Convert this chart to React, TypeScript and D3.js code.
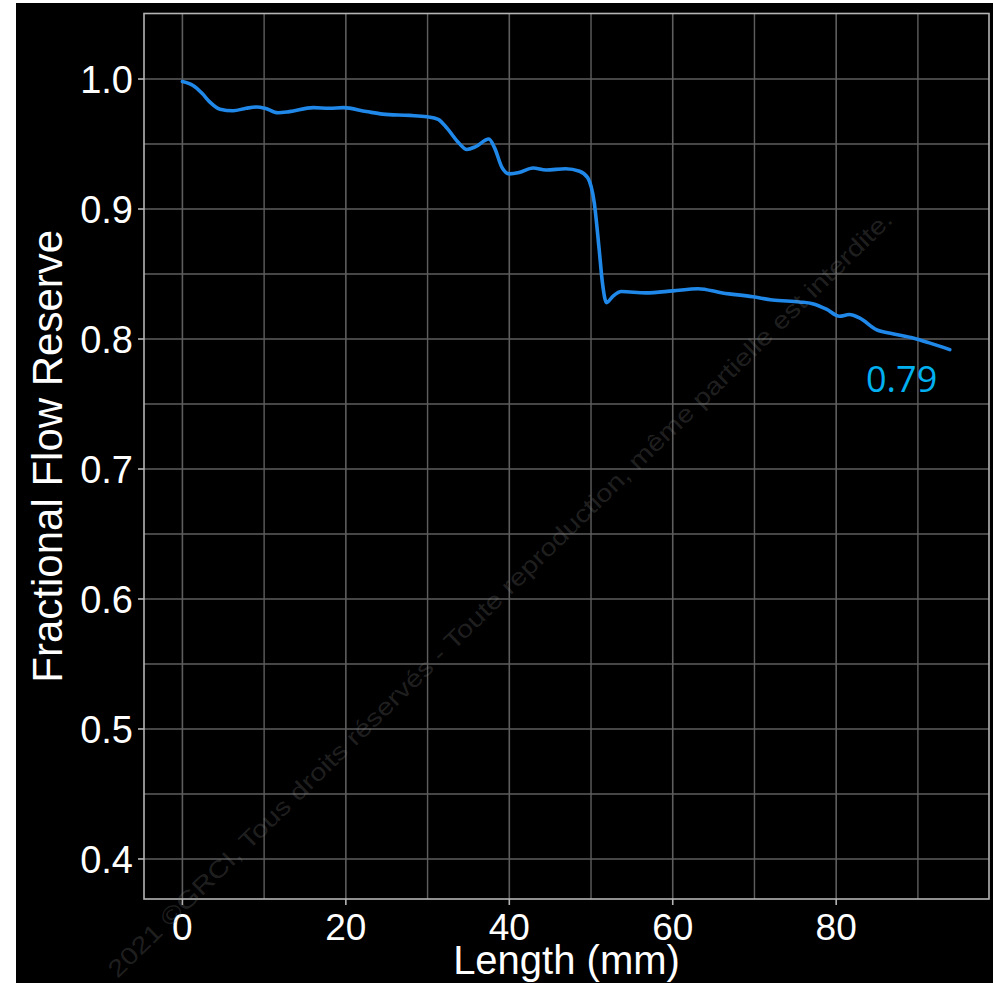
import React from "react";
import * as d3 from "d3";

// Data
const lengthMm: number[] = [
  0, 1.3, 2.4, 3.4, 4.6, 6.2, 7.8, 9.1, 10.1, 11.7, 13.1, 16.0, 18.0, 19.7,
  22.5, 24.5, 27.8, 29.9, 31.3, 32.4, 33.8, 34.8, 35.9, 37.5, 38.2, 39.1, 40.0,
  41.2, 42.9, 44.5, 46.9, 48.6, 49.6, 50.4, 51.0, 51.4, 51.9, 52.7, 53.7, 56.7,
  60.0, 63.1, 66.1, 69.8, 72.2, 75.5, 77.1, 78.8, 80.4, 81.6, 82.9, 84.9, 86.9,
  89.4, 91.4, 93.9,
];
const ffrValues: number[] = [
  0.998, 0.995, 0.989, 0.982, 0.9768, 0.9756, 0.9775, 0.9785, 0.9775, 0.974,
  0.9749, 0.978, 0.9775, 0.978, 0.975, 0.973, 0.972, 0.971, 0.969, 0.962,
  0.951, 0.9458, 0.948, 0.9538, 0.947, 0.932, 0.927, 0.928, 0.9315, 0.93,
  0.931, 0.929, 0.924, 0.9046, 0.8687, 0.843, 0.828, 0.833, 0.8365, 0.8355,
  0.837, 0.8387, 0.8354, 0.8325, 0.83, 0.8285, 0.8272, 0.823, 0.8175, 0.8188,
  0.816, 0.8072, 0.8041, 0.8008, 0.797, 0.7918,
];
const xMajorTicks: number[] = [0, 20, 40, 60, 80];
const xMinorTicks: number[] = [10, 30, 50, 70, 90];
const yMajorTicks: number[] = [0.4, 0.5, 0.6, 0.7, 0.8, 0.9, 1.0];
const yMinorTicks: number[] = [0.45, 0.55, 0.65, 0.75, 0.85, 0.95];
const finalLabel = "0.79";
const xTitle = "Length (mm)";
const yTitle = "Fractional Flow Reserve";
const watermark =
  "2021 ©GRCI, Tous droits réservés - Toute reproduction, même partielle est interdite.";

const W = 993;
const H = 983;
const panel = { left: 144, right: 989, top: 13.5, bottom: 899 };

export default function App() {
  const x = d3.scaleLinear().domain([-4.7, 98.7]).range([panel.left, panel.right]);
  const y = d3.scaleLinear().domain([0.3692, 1.0504]).range([panel.bottom, panel.top]);

  const pts = lengthMm.map((l, i) => [l, ffrValues[i]] as [number, number]);
  const line = d3
    .line<[number, number]>()
    .x((d) => x(d[0]))
    .y((d) => y(d[1]))
    .curve(d3.curveMonotoneX);

  const gridColor = "#5e5e5e";
  const font = "'Liberation Sans', Arial, sans-serif";

  return (
    <div style={{ position: "absolute", left: 0, top: 0 }}>
      <svg width={W} height={H} style={{ display: "block" }}>
        <rect x={0} y={0} width={W} height={H} fill="#ffffff" />
        <rect x={16} y={3} width={W - 16} height={H - 3} fill="#000000" />

        {/* grid */}
        {yMinorTicks.map((t) => (
          <line key={"ym" + t} x1={panel.left} x2={panel.right} y1={y(t)} y2={y(t)} stroke={gridColor} strokeWidth={1.4} />
        ))}
        {yMajorTicks.map((t) => (
          <line key={"yM" + t} x1={panel.left} x2={panel.right} y1={y(t)} y2={y(t)} stroke={gridColor} strokeWidth={1.6} />
        ))}
        {xMinorTicks.map((t) => (
          <line key={"xm" + t} x1={x(t)} x2={x(t)} y1={panel.top} y2={panel.bottom} stroke={gridColor} strokeWidth={1.4} />
        ))}
        {xMajorTicks.map((t) => (
          <line key={"xM" + t} x1={x(t)} x2={x(t)} y1={panel.top} y2={panel.bottom} stroke={gridColor} strokeWidth={1.6} />
        ))}

        {/* panel border */}
        <rect
          x={panel.left}
          y={panel.top}
          width={panel.right - panel.left}
          height={panel.bottom - panel.top}
          fill="none"
          stroke="#b4b4b4"
          strokeWidth={1.6}
        />

        {/* ticks */}
        {yMajorTicks.map((t) => (
          <line key={"yt" + t} x1={panel.left - 6} x2={panel.left} y1={y(t)} y2={y(t)} stroke="#b4b4b4" strokeWidth={1.6} />
        ))}
        {xMajorTicks.map((t) => (
          <line key={"xt" + t} x1={x(t)} x2={x(t)} y1={panel.bottom} y2={panel.bottom + 6} stroke="#b4b4b4" strokeWidth={1.6} />
        ))}

        {/* tick labels */}
        {yMajorTicks.map((t) => (
          <text
            key={"yl" + t}
            x={133}
            y={y(t)}
            dy="0.36em"
            textAnchor="end"
            fill="#ffffff"
            fontFamily={font}
            fontSize={38}
          >
            {d3.format(".1f")(t)}
          </text>
        ))}
        {xMajorTicks.map((t) => (
          <text
            key={"xl" + t}
            x={x(t)}
            y={940}
            textAnchor="middle"
            fill="#ffffff"
            fontFamily={font}
            fontSize={37}
          >
            {t}
          </text>
        ))}

        {/* axis titles */}
        <text x={(panel.left + panel.right) / 2} y={974} textAnchor="middle" fill="#ffffff" fontFamily={font} fontSize={40}>
          {xTitle}
        </text>
        <text
          transform={`translate(62, ${(panel.top + panel.bottom) / 2}) rotate(-90)`}
          textAnchor="middle"
          fill="#ffffff"
          fontFamily={font}
          fontSize={42}
        >
          {yTitle}
        </text>

        {/* data line */}
        <path d={line(pts) ?? ""} fill="none" stroke="#2088e8" strokeWidth={3.6} strokeLinejoin="round" strokeLinecap="round" />

        {/* final value annotation */}
        <text x={866} y={392} fill="#00b0f0" fontFamily="'Open Sans', sans-serif" fontSize={36}>
          {finalLabel}
        </text>

        {/* watermark */}
        <text
          transform="translate(500, 594) rotate(-44.3)"
          textAnchor="middle"
          dy="0.35em"
          fill="#8a8a8a"
          fillOpacity={0.24}
          fontFamily={font}
          fontSize={24}
          textLength={1085}
          lengthAdjust="spacingAndGlyphs"
        >
          {watermark}
        </text>
      </svg>
    </div>
  );
}
